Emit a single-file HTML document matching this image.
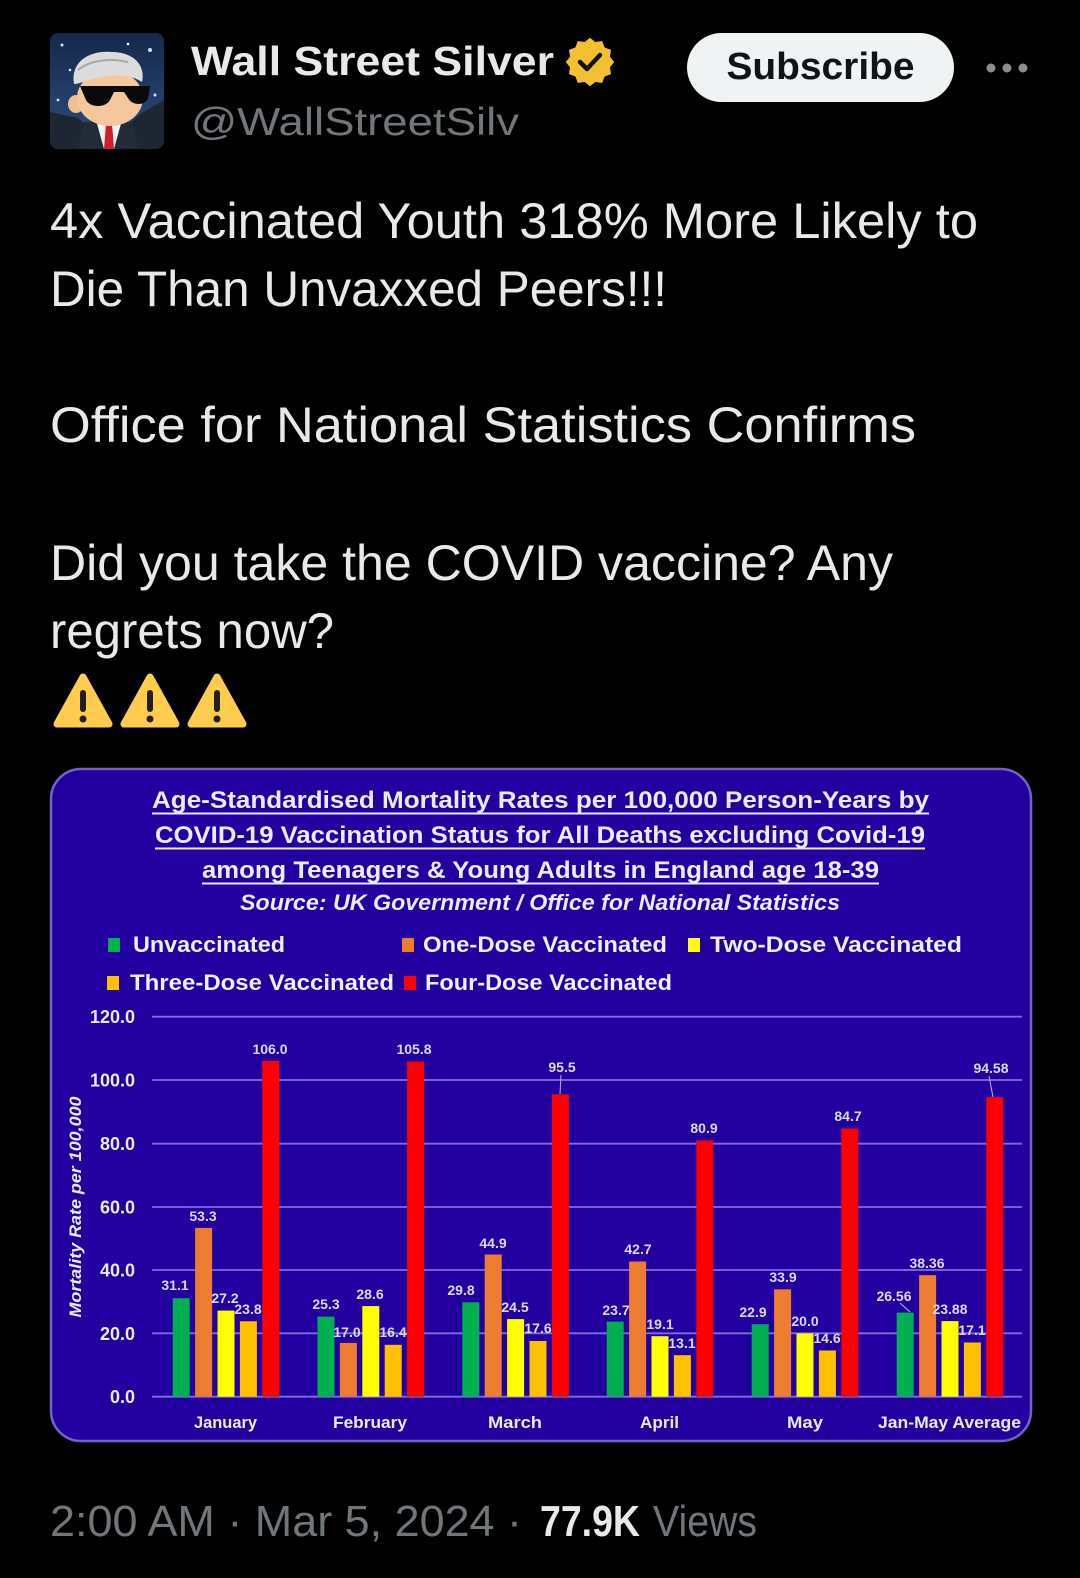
<!DOCTYPE html>
<html><head><meta charset="utf-8"><style>
html,body{margin:0;padding:0;background:#000;}
svg{display:block;}
text{font-family:"Liberation Sans",sans-serif;}
</style></head><body>
<svg width="1080" height="1578" viewBox="0 0 1080 1578" xmlns="http://www.w3.org/2000/svg">
<defs>
<linearGradient id="sky" x1="0" y1="0" x2="0" y2="1"><stop offset="0" stop-color="#16284a"/><stop offset="1" stop-color="#2d4f80"/></linearGradient>
<clipPath id="av"><rect x="50" y="33" width="114" height="116" rx="8"/></clipPath>
</defs>
<rect width="1080" height="1578" fill="#000"/>

<!-- avatar -->
<g clip-path="url(#av)">
<rect x="50" y="33" width="114" height="116" fill="url(#sky)"/>
<circle cx="62" cy="45" r="1.5" fill="#cfe0ff"/><circle cx="150" cy="50" r="2" fill="#cfe0ff"/><circle cx="140" cy="78" r="1.5" fill="#fff"/><circle cx="70" cy="70" r="1.2" fill="#fff"/><circle cx="155" cy="95" r="1.5" fill="#cfe0ff"/><circle cx="128" cy="44" r="1.3" fill="#fff"/><circle cx="58" cy="100" r="1.4" fill="#cfe0ff"/>
<path d="M50 112 L78 118 L92 130 L92 149 L50 149 Z" fill="#1e2633"/>
<path d="M164 100 L140 114 L124 128 L124 149 L164 149 Z" fill="#1e2633"/>
<path d="M84 122 L132 122 L138 149 L78 149 Z" fill="#232b38"/>
<path d="M96 120 L122 120 L114 149 L104 149 Z" fill="#f2f2f2"/>
<path d="M106 124 L112 124 L114 149 L104 149 Z" fill="#d01f2a"/>
<ellipse cx="76" cy="104" rx="8" ry="9" fill="#f0bf93"/>
<ellipse cx="110" cy="98" rx="33" ry="28" fill="#f4c79d"/>
<path d="M74 84 C70 60 92 50 112 52 C132 52 146 64 142 82 C130 74 112 74 96 78 C86 80 80 84 74 84 Z" fill="#dcdcdc"/>
<path d="M78 70 C90 60 110 58 128 62" stroke="#a9a9a9" stroke-width="2" fill="none"/>
<path d="M80 86 L150 86 L148 98 C146 106 132 106 128 98 L124 92 L114 92 L110 100 C106 108 90 108 86 100 Z" fill="#0a0a0a"/>
</g>

<!-- name -->
<text x="191" y="75" font-size="41" font-weight="bold" fill="#e7e9ea" textLength="363" lengthAdjust="spacingAndGlyphs">Wall Street Silver</text>
<polygon points="590,39 595.05,43.16 601.5,42.08 603.79,48.21 609.92,50.5 608.84,56.95 613,62 608.84,67.05 609.92,73.5 603.79,75.79 601.5,81.92 595.05,80.84 590,85 584.95,80.84 578.5,81.92 576.21,75.79 570.08,73.5 571.16,67.05 567,62 571.16,56.95 570.08,50.5 576.21,48.21 578.5,42.08 584.95,43.16" fill="#f3c12f" stroke="#f3c12f" stroke-width="2" stroke-linejoin="round"/>
<polyline points="580,62 587,69 600,55" fill="none" stroke="#111" stroke-width="4.5" stroke-linecap="round" stroke-linejoin="round"/>
<text x="191" y="135" font-size="39" fill="#71767b" textLength="328" lengthAdjust="spacingAndGlyphs">@WallStreetSilv</text>

<rect x="687" y="33" width="267" height="69" rx="34.5" fill="#eff3f4"/>
<text x="820.5" y="79" font-size="38" font-weight="bold" fill="#0f1419" text-anchor="middle" textLength="188" lengthAdjust="spacingAndGlyphs">Subscribe</text>
<circle cx="991" cy="68" r="4.5" fill="#8b8f94"/><circle cx="1007" cy="68" r="4.5" fill="#8b8f94"/><circle cx="1023" cy="68" r="4.5" fill="#8b8f94"/>

<!-- tweet text -->
<g font-size="50" fill="#e7e9ea">
<text x="50" y="238" textLength="928" lengthAdjust="spacingAndGlyphs">4x Vaccinated Youth 318% More Likely to</text>
<text x="50" y="306" textLength="617" lengthAdjust="spacingAndGlyphs">Die Than Unvaxxed Peers!!!</text>
<text x="50" y="442" textLength="866" lengthAdjust="spacingAndGlyphs">Office for National Statistics Confirms</text>
<text x="50" y="580" textLength="843" lengthAdjust="spacingAndGlyphs">Did you take the COVID vaccine? Any</text>
<text x="50" y="648" textLength="284" lengthAdjust="spacingAndGlyphs">regrets now?</text>
</g>

<!-- warning emojis -->
<g>
<polygon points="83,677 57,724 109,724" fill="#ffcc4d" stroke="#ffcc4d" stroke-width="7" stroke-linejoin="round"/>
<rect x="80" y="690" width="6" height="22" rx="3" fill="#231f20"/><circle cx="83" cy="719" r="3.5" fill="#231f20"/>
<polygon points="150,677 124,724 176,724" fill="#ffcc4d" stroke="#ffcc4d" stroke-width="7" stroke-linejoin="round"/>
<rect x="147" y="690" width="6" height="22" rx="3" fill="#231f20"/><circle cx="150" cy="719" r="3.5" fill="#231f20"/>
<polygon points="217,677 191,724 243,724" fill="#ffcc4d" stroke="#ffcc4d" stroke-width="7" stroke-linejoin="round"/>
<rect x="214" y="690" width="6" height="22" rx="3" fill="#231f20"/><circle cx="217" cy="719" r="3.5" fill="#231f20"/>
</g>

<!-- chart card -->
<rect x="51" y="769" width="980" height="672" rx="30" fill="#2200a0" stroke="#7264c4" stroke-width="2.5"/>

<!-- title -->
<g font-size="24" font-weight="bold" fill="#ecebfa" text-anchor="middle">
<text x="540.5" y="808" textLength="777" lengthAdjust="spacingAndGlyphs">Age-Standardised Mortality Rates per 100,000 Person-Years by</text>
<text x="540" y="843" textLength="770" lengthAdjust="spacingAndGlyphs">COVID-19 Vaccination Status for All Deaths excluding Covid-19</text>
<text x="540.5" y="878" textLength="677" lengthAdjust="spacingAndGlyphs">among Teenagers &amp; Young Adults in England age 18-39</text>
</g>
<g stroke="#ecebfa" stroke-width="2">
<line x1="152" y1="813.5" x2="929" y2="813.5"/>
<line x1="155" y1="848.5" x2="925" y2="848.5"/>
<line x1="202" y1="883.5" x2="879" y2="883.5"/>
</g>
<text x="540" y="910" font-size="22" font-weight="bold" font-style="italic" fill="#ecebfa" text-anchor="middle" textLength="600" lengthAdjust="spacingAndGlyphs">Source: UK Government / Office for National Statistics</text>

<!-- legend -->
<g font-size="22" font-weight="bold" fill="#f0f0ff">
<rect x="108" y="938" width="12" height="14" fill="#00b050"/>
<text x="133" y="952" textLength="152" lengthAdjust="spacingAndGlyphs">Unvaccinated</text>
<rect x="402" y="938" width="12" height="14" fill="#ed7d31"/>
<text x="423" y="952" textLength="244" lengthAdjust="spacingAndGlyphs">One-Dose Vaccinated</text>
<rect x="688" y="938" width="12" height="14" fill="#ffff00"/>
<text x="710" y="952" textLength="252" lengthAdjust="spacingAndGlyphs">Two-Dose Vaccinated</text>
<rect x="107" y="976" width="12" height="14" fill="#ffc000"/>
<text x="130" y="990" textLength="264" lengthAdjust="spacingAndGlyphs">Three-Dose Vaccinated</text>
<rect x="404" y="976" width="12" height="14" fill="#ff0000"/>
<text x="425" y="990" textLength="247" lengthAdjust="spacingAndGlyphs">Four-Dose Vaccinated</text>
</g>

<!-- gridlines -->
<g stroke="#7f6de0" stroke-width="1.8">
<line x1="152" y1="1016.7" x2="1022" y2="1016.7"/>
<line x1="152" y1="1080" x2="1022" y2="1080"/>
<line x1="152" y1="1143.7" x2="1022" y2="1143.7"/>
<line x1="152" y1="1207" x2="1022" y2="1207"/>
<line x1="152" y1="1270" x2="1022" y2="1270"/>
<line x1="152" y1="1333.3" x2="1022" y2="1333.3"/>
<line x1="152" y1="1396.7" x2="1022" y2="1396.7"/>
</g>
<g font-size="18" font-weight="bold" fill="#ecebfa" text-anchor="end">
<text x="135" y="1023">120.0</text>
<text x="135" y="1086.5">100.0</text>
<text x="135" y="1150">80.0</text>
<text x="135" y="1213.5">60.0</text>
<text x="135" y="1276.5">40.0</text>
<text x="135" y="1340">20.0</text>
<text x="135" y="1403">0.0</text>
</g>
<text transform="translate(81,1207) rotate(-90)" font-size="17" font-weight="bold" font-style="italic" fill="#ecebfa" text-anchor="middle" textLength="221" lengthAdjust="spacingAndGlyphs">Mortality Rate per 100,000</text>

<!-- bars -->
<g>
<!-- Jan x0=172.7 -->
<rect x="172.7" y="1298.2" width="17" height="98.5" fill="#00b050"/>
<rect x="195.1" y="1227.9" width="17" height="168.8" fill="#ed7d31"/>
<rect x="217.5" y="1310.6" width="17" height="86.1" fill="#ffff00"/>
<rect x="239.9" y="1321.3" width="17" height="75.4" fill="#ffc000"/>
<rect x="262.3" y="1061.0" width="17" height="335.7" fill="#ff0000"/>
<!-- Feb x0=317.5 -->
<rect x="317.5" y="1316.6" width="17" height="80.1" fill="#00b050"/>
<rect x="339.9" y="1342.9" width="17" height="53.8" fill="#ed7d31"/>
<rect x="362.3" y="1306.1" width="17" height="90.6" fill="#ffff00"/>
<rect x="384.7" y="1344.8" width="17" height="51.9" fill="#ffc000"/>
<rect x="407.1" y="1061.7" width="17" height="335.0" fill="#ff0000"/>
<!-- Mar x0=462.3 -->
<rect x="462.3" y="1302.3" width="17" height="94.4" fill="#00b050"/>
<rect x="484.7" y="1254.5" width="17" height="142.2" fill="#ed7d31"/>
<rect x="507.1" y="1319.1" width="17" height="77.6" fill="#ffff00"/>
<rect x="529.5" y="1341.0" width="17" height="55.7" fill="#ffc000"/>
<rect x="551.9" y="1094.3" width="17" height="302.4" fill="#ff0000"/>
<!-- Apr x0=606.7 -->
<rect x="606.7" y="1321.6" width="17" height="75.1" fill="#00b050"/>
<rect x="629.1" y="1261.5" width="17" height="135.2" fill="#ed7d31"/>
<rect x="651.5" y="1336.2" width="17" height="60.5" fill="#ffff00"/>
<rect x="673.9" y="1355.2" width="17" height="41.5" fill="#ffc000"/>
<rect x="696.3" y="1140.5" width="17" height="256.2" fill="#ff0000"/>
<!-- May x0=751.7 -->
<rect x="751.7" y="1324.2" width="17" height="72.5" fill="#00b050"/>
<rect x="774.1" y="1289.3" width="17" height="107.4" fill="#ed7d31"/>
<rect x="796.5" y="1333.4" width="17" height="63.3" fill="#ffff00"/>
<rect x="818.9" y="1350.5" width="17" height="46.2" fill="#ffc000"/>
<rect x="841.3" y="1128.5" width="17" height="268.2" fill="#ff0000"/>
<!-- Avg x0=896.7 -->
<rect x="896.7" y="1312.6" width="17" height="84.1" fill="#00b050"/>
<rect x="919.1" y="1275.2" width="17" height="121.5" fill="#ed7d31"/>
<rect x="941.5" y="1321.1" width="17" height="75.6" fill="#ffff00"/>
<rect x="963.9" y="1342.5" width="17" height="54.2" fill="#ffc000"/>
<rect x="986.3" y="1097.2" width="17" height="299.5" fill="#ff0000"/>
</g>

<!-- leader lines -->
<g stroke="#b9b2e8" stroke-width="1">
<line x1="561" y1="1075" x2="560" y2="1094"/>
<line x1="989" y1="1076" x2="993" y2="1097"/>
<line x1="900" y1="1303" x2="910" y2="1312"/>
</g>

<!-- data labels -->
<g font-size="14" font-weight="bold" fill="#dcdaf0" text-anchor="middle">
<text x="175" y="1290">31.1</text><text x="203" y="1221">53.3</text><text x="225" y="1303">27.2</text><text x="248" y="1314">23.8</text><text x="270" y="1054">106.0</text>
<text x="326" y="1309">25.3</text><text x="347" y="1337">17.0</text><text x="370" y="1299">28.6</text><text x="393" y="1337">16.4</text><text x="414" y="1054">105.8</text>
<text x="461" y="1295">29.8</text><text x="493" y="1248">44.9</text><text x="515" y="1312">24.5</text><text x="538" y="1333">17.6</text><text x="562" y="1072">95.5</text>
<text x="616" y="1315">23.7</text><text x="638" y="1254">42.7</text><text x="660" y="1329">19.1</text><text x="682" y="1348">13.1</text><text x="704" y="1133">80.9</text>
<text x="753" y="1317">22.9</text><text x="783" y="1282">33.9</text><text x="805" y="1326">20.0</text><text x="827" y="1343">14.6</text><text x="848" y="1121">84.7</text>
<text x="894" y="1301">26.56</text><text x="927" y="1268">38.36</text><text x="950" y="1314">23.88</text><text x="972" y="1335">17.1</text><text x="991" y="1073">94.58</text>
</g>

<!-- categories -->
<g font-size="17" font-weight="bold" fill="#ecebfa" text-anchor="middle">
<text x="225.5" y="1428" textLength="63" lengthAdjust="spacingAndGlyphs">January</text>
<text x="370" y="1428" textLength="74" lengthAdjust="spacingAndGlyphs">February</text>
<text x="515" y="1428" textLength="54" lengthAdjust="spacingAndGlyphs">March</text>
<text x="659.5" y="1428" textLength="39" lengthAdjust="spacingAndGlyphs">April</text>
<text x="805" y="1428" textLength="36" lengthAdjust="spacingAndGlyphs">May</text>
<text x="949.5" y="1428" textLength="143" lengthAdjust="spacingAndGlyphs">Jan-May Average</text>
</g>

<!-- footer -->
<text x="50" y="1536" font-size="44" fill="#71767b" textLength="472" lengthAdjust="spacingAndGlyphs">2:00 AM · Mar 5, 2024 ·</text>
<text x="540" y="1536" font-size="44" font-weight="bold" fill="#e7e9ea" textLength="100" lengthAdjust="spacingAndGlyphs">77.9K</text>
<text x="653" y="1536" font-size="44" fill="#71767b" textLength="104" lengthAdjust="spacingAndGlyphs">Views</text>
</svg>
</body></html>
